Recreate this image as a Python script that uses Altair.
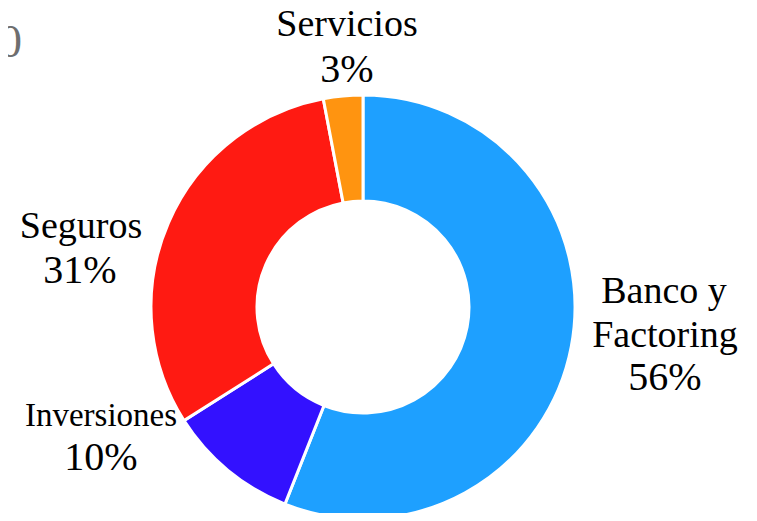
import altair as alt
import pandas as pd

categories = ["Banco y Factoring", "Inversiones", "Seguros", "Servicios"]
shares = [56, 10, 31, 3]
name_line1 = ["Banco y", "Inversiones", "Seguros", "Servicios"]
name_line2 = ["Factoring", "", "", ""]
colors = ["#1EA0FF", "#3311FF", "#FF1A12", "#FF9410"]

df = pd.DataFrame({
    "category": categories,
    "share": shares,
    "order": list(range(len(categories))),
    "line1": name_line1,
    "line2": name_line2,
})
df["pct"] = df["share"].astype(str) + "%"

CX, CY = 355, 299
FONT = "Liberation Serif"
NAME = 38
PCT = 40

base = alt.Chart(df)

donut = base.mark_arc(outerRadius=212, innerRadius=106, stroke="white", strokeWidth=3).encode(
    theta=alt.Theta("share:Q", stack=True),
    order=alt.Order("order:Q"),
    color=alt.Color("category:N", scale=alt.Scale(domain=categories, range=colors), legend=None),
    x=alt.value(CX),
    y=alt.value(CY),
)


def label(cat, field, x, y, size):
    return base.transform_filter(alt.datum.category == cat).mark_text(
        align="center", baseline="alphabetic", font=FONT, fontSize=size, color="#000000"
    ).encode(text=alt.Text(f"{field}:N"), x=alt.value(x), y=alt.value(y))


layers = [
    donut,
    label("Servicios", "line1", 339, 28, NAME),
    label("Servicios", "pct", 339, 74, PCT),
    label("Seguros", "line1", 73, 230, NAME),
    label("Seguros", "pct", 72, 275, PCT),
    label("Inversiones", "line1", 93, 418, 33),
    label("Inversiones", "pct", 93, 462, PCT),
    label("Banco y Factoring", "line1", 656, 295, NAME),
    label("Banco y Factoring", "line2", 657, 339, NAME),
    label("Banco y Factoring", "pct", 657, 382, PCT),
]

corner = alt.Chart(pd.DataFrame({"t": ["0"]})).mark_text(
    align="right", baseline="alphabetic", font=FONT, fontSize=46, color="#6E6E6E"
).encode(text="t:N", x=alt.value(14), y=alt.value(49))
layers.append(corner)

chart = alt.layer(*layers).properties(
    width=741, height=505,
    autosize=alt.AutoSizeParams(type="none"),
    padding=0,
).configure_view(stroke=None)

chart.save("out.html", embed_options={"renderer": "svg", "actions": False})
